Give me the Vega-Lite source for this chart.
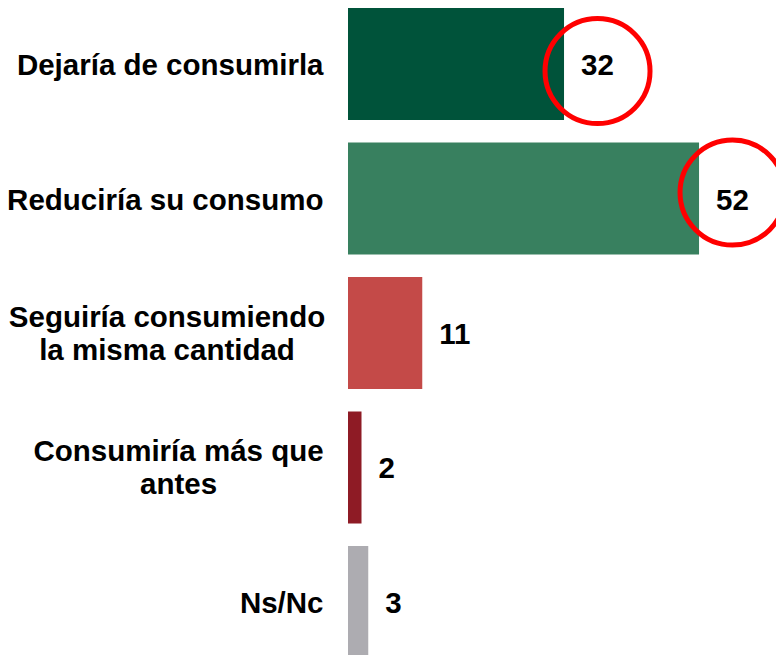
{
  "$schema": "https://vega.github.io/schema/vega-lite/v6.json",
  "width": 428,
  "height": 655,
  "autosize": "none",
  "padding": {"left": 348, "top": 0, "right": 0, "bottom": 0},
  "background": "white",
  "config": {"view": {"stroke": null}, "font": "Liberation Sans"},
  "data": {
    "values": [
      {"cat": "Dejaría de consumirla", "value": 32},
      {"cat": "Reduciría su consumo", "value": 52},
      {"cat": "Seguiría consumiendo|la misma cantidad", "value": 11},
      {"cat": "Consumiría más que|antes", "value": 2},
      {"cat": "Ns/Nc", "value": 3}
    ]
  },
  "encoding": {
    "y": {
      "field": "cat",
      "type": "nominal",
      "sort": null,
      "scale": {"range": [0, 666], "paddingInner": 0.167, "paddingOuter": 0.06},
      "axis": {
        "title": null,
        "domain": false,
        "ticks": false,
        "labelExpr": "split(datum.label, '|')",
        "labelFont": "Liberation Sans",
        "labelFontSize": 29.5,
        "labelFontWeight": "bold",
        "labelColor": "#000000",
        "labelLimit": 0,
        "labelLineHeight": 33,
        "labelBaseline": "middle",
        "labelAlign": {"condition": {"test": "indexof(datum.label, '|') >= 0", "value": "center"}, "value": "right"},
        "labelOffset": {"condition": {"test": "indexof(datum.label, '|') >= 0", "value": -15}, "value": 2},
        "labelPadding": {"condition": [
          {"test": "indexof(datum.label, 'Seguir') >= 0", "value": 181.5},
          {"test": "indexof(datum.label, 'más que') >= 0", "value": 170}
        ], "value": 25}
      }
    }
  },
  "layer": [
    {
      "mark": {"type": "bar"},
      "encoding": {
        "x": {"field": "value", "type": "quantitative", "scale": {"domain": [0, 63.4], "nice": false}, "axis": null},
        "color": {
          "field": "cat",
          "type": "nominal",
          "legend": null,
          "scale": {
            "domain": ["Dejaría de consumirla", "Reduciría su consumo", "Seguiría consumiendo|la misma cantidad", "Consumiría más que|antes", "Ns/Nc"],
            "range": ["#00533A", "#38805F", "#C44A48", "#8E1B25", "#ADACB1"]
          }
        }
      }
    },
    {
      "mark": {"type": "text", "align": "left", "baseline": "middle", "dx": 17, "dy": 2, "fontSize": 29.5, "fontWeight": "bold", "font": "Liberation Sans", "color": "#000000"},
      "encoding": {
        "x": {"field": "value", "type": "quantitative"},
        "text": {"field": "value", "type": "quantitative"}
      }
    },
    {
      "transform": [{"filter": "datum.value > 20"}],
      "mark": {"type": "point", "shape": "circle", "filled": false, "size": 11025, "stroke": "#FF0000", "strokeWidth": 5, "opacity": 1, "xOffset": 33.5, "yOffset": {"expr": "datum.value < 40 ? 7 : -6"}},
      "encoding": {
        "x": {"field": "value", "type": "quantitative"}
      }
    }
  ]
}
